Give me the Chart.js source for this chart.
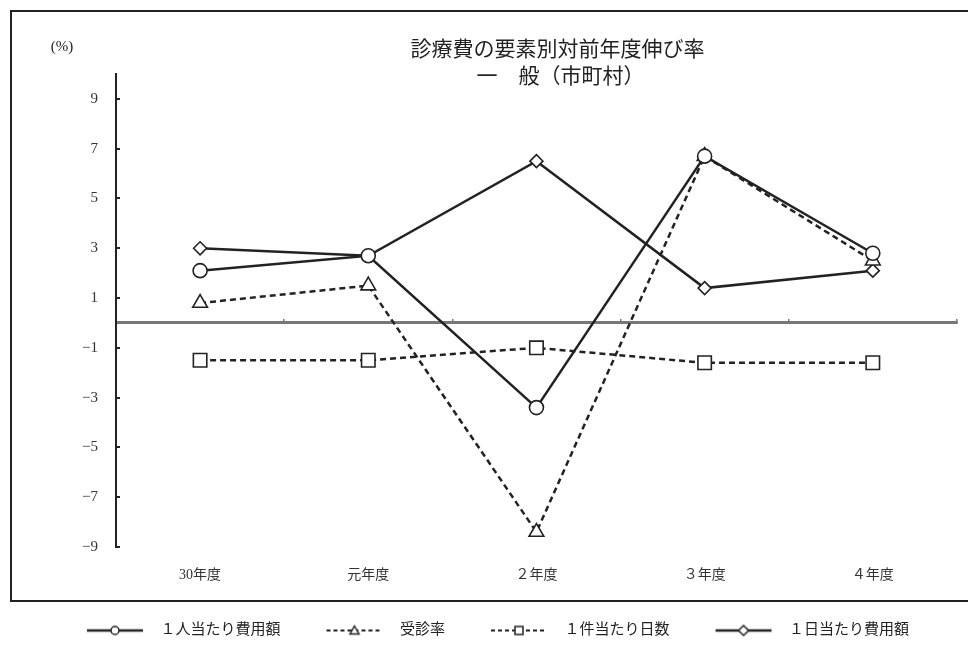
<!DOCTYPE html>
<html lang="ja">
<head>
<meta charset="UTF-8">
<title>診療費の要素別対前年度伸び率</title>
<script src="https://cdn.jsdelivr.net/npm/chart.js"></script>
<style>
    body { margin: 0; background: #fff; }
    .wrap { position: relative; width: 968px; height: 653px; overflow: hidden; }
    .frame {
        position: absolute;
        left: 10px; top: 10px;
        width: 1000px; height: 588px;
        border: 2px solid #222;
        pointer-events: none;
    }
</style>
</head>
<body>
<div class="wrap">
    <canvas id="chart" width="968" height="653"></canvas>
    <div class="frame"></div>
</div>

<script>
    // 年度
    const categories = ['30年度', '元年度', '２年度', '３年度', '４年度'];

    // 伸び率（%）
    const perPersonCost = [2.1, 2.7, -3.4, 6.7, 2.8];   // １人当たり費用額
    const visitRate = [0.8, 1.5, -8.4, 6.7, 2.5];       // 受診率
    const daysPerCase = [-1.5, -1.5, -1.0, -1.6, -1.6]; // １件当たり日数
    const costPerDay = [3.0, 2.7, 6.5, 1.4, 2.1];       // １日当たり費用額

    const seriesNames = ['１人当たり費用額', '受診率', '１件当たり日数', '１日当たり費用額'];
    const yTicks = [-9, -7, -5, -3, -1, 1, 3, 5, 7, 9];
    const titleLines = ['診療費の要素別対前年度伸び率', '一　般（市町村）'];
    const unitLabel = '(%)';

    const serif = "'Liberation Serif', 'Noto Sans CJK JP', serif";
    const ink = '#222';

    // 凡例用の線＋マーカー
    const ICON_W = 102;
    function legendIcon(style, dashed) {
        const c = document.createElement('canvas');
        c.width = ICON_W;
        c.height = 14;
        const g = c.getContext('2d');
        const x0 = ICON_W - 66;
        const m = x0 + 28;
        g.strokeStyle = ink;
        g.lineWidth = dashed ? 2 : 2.5;
        g.setLineDash(dashed ? [4, 3] : []);
        g.beginPath();
        g.moveTo(x0, 7);
        g.lineTo(x0 + 56, 7);
        g.stroke();
        g.setLineDash([]);
        g.fillStyle = '#fff';
        g.lineWidth = 1.5;
        g.beginPath();
        if (style === 'circle') {
            g.arc(m, 7, 4, 0, Math.PI * 2);
        } else if (style === 'triangle') {
            g.moveTo(m, 2.5); g.lineTo(m + 4.5, 10.5); g.lineTo(m - 4.5, 10.5); g.closePath();
        } else if (style === 'rect') {
            g.rect(m - 4, 3, 8, 8);
        } else {
            g.moveTo(m, 2); g.lineTo(m + 5, 7); g.lineTo(m, 12); g.lineTo(m - 5, 7); g.closePath();
        }
        g.fill();
        g.stroke();
        return c;
    }

    const icons = [
        legendIcon('circle', false),
        legendIcon('triangle', true),
        legendIcon('rect', true),
        legendIcon('diamond', false)
    ];

    // タイトルと単位
    const titlePlugin = {
        id: 'titleText',
        afterDraw(chart) {
            const ctx = chart.ctx;
            const cx = (chart.chartArea.left + chart.chartArea.right) / 2 + 21;
            ctx.save();
            ctx.fillStyle = ink;
            ctx.textAlign = 'center';
            ctx.textBaseline = 'middle';
            ctx.font = "21px 'Noto Sans CJK JP'";
            ctx.fillText(titleLines[0], cx, 48);
            ctx.fillText(titleLines[1], cx + 3, 75);
            ctx.font = '15px ' + serif;
            ctx.fillText(unitLabel, 62, 47);
            ctx.restore();
        }
    };

    function series(label, data, pointStyle, radius, dashed) {
        return {
            label: label,
            data: data,
            borderColor: ink,
            borderWidth: 2.5,
            borderDash: dashed ? [6, 4] : [],
            pointStyle: pointStyle,
            pointRadius: radius,
            pointBackgroundColor: '#fff',
            pointBorderColor: ink,
            pointBorderWidth: 1.6,
            tension: 0,
            fill: false
        };
    }

    new Chart(document.getElementById('chart'), {
        type: 'line',
        data: {
            labels: categories,
            datasets: [
                series(seriesNames[0], perPersonCost, 'circle', 7, false),
                series(seriesNames[1], visitRate, 'triangle', 8.5, true),
                series(seriesNames[2], daysPerCase, 'rect', 9.5, true),
                series(seriesNames[3], costPerDay, 'rectRot', 6.5, false)
            ]
        },
        options: {
            responsive: false,
            animation: false,
            layout: { padding: { top: 74, left: 0, right: 8, bottom: 5 } },
            plugins: {
                legend: {
                    position: 'bottom',
                    labels: {
                        usePointStyle: true,
                        pointStyleWidth: ICON_W,
                        padding: 10,
                        color: ink,
                        font: { size: 15, family: serif },
                        generateLabels(chart) {
                            return Chart.defaults.plugins.legend.labels.generateLabels(chart)
                                .map((item, i) => ({ ...item, pointStyle: icons[i] }));
                        }
                    }
                },
                tooltip: { enabled: false }
            },
            scales: {
                x: {
                    type: 'category',
                    offset: true,
                    grid: { display: false },
                    border: { display: false },
                    ticks: { color: '#333', font: { size: 14, family: serif }, padding: 12 },
                    afterFit(s) { s.height = 66; }
                },
                x2: {
                    type: 'category',
                    labels: categories,
                    offset: true,
                    position: { y: 0 },
                    grid: { offset: true, drawOnChartArea: false, color: '#777', lineWidth: 1.5, tickLength: -5 },
                    border: { color: '#777', width: 3 },
                    ticks: { display: false }
                },
                y: {
                    min: -9,
                    max: 10,
                    afterBuildTicks(s) { s.ticks = yTicks.map(v => ({ value: v })); },
                    grid: { drawOnChartArea: false, color: ink, lineWidth: 2, tickLength: -4 },
                    border: { color: ink, width: 2 },
                    ticks: {
                        padding: 22,
                        color: '#333',
                        font: { size: 15, family: serif },
                        callback: v => v < 0 ? '\u2212' + Math.abs(v) : String(v)
                    },
                    afterFit(s) { s.width = 116; }
                }
            }
        },
        plugins: [titlePlugin]
    });
</script>
</body>
</html>
